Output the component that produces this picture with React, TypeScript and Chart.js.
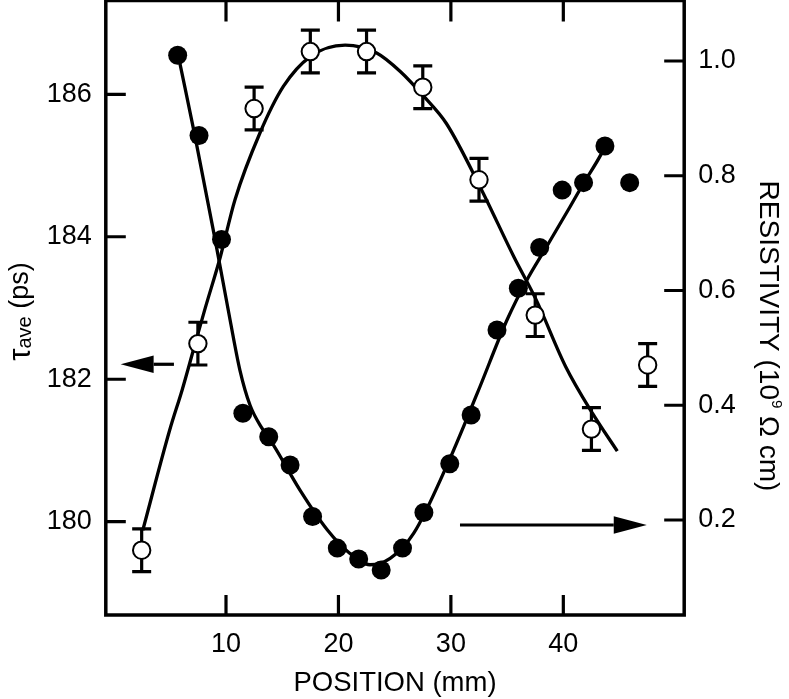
import React, { useEffect, useRef } from 'react';
import { Chart, registerables } from 'chart.js';

Chart.register(...registerables);

// ---- tick values ----
const positionTicks = [10, 20, 30, 40];
const tauTicks = [180, 182, 184, 186];
const rhoTicks = [0.2, 0.4, 0.6, 0.8, 1.0];

// ---- open circles: tau_ave (ps) vs position (mm) ----
const tauPositions = [2.5, 7.5, 12.5, 17.5, 22.5, 27.5, 32.5, 37.5, 42.5, 47.5];
const tauAve = [179.6, 182.5, 185.8, 186.6, 186.6, 186.1, 184.8, 182.9, 181.3, 182.2];
const tauError = [0.3, 0.3, 0.3, 0.3, 0.3, 0.3, 0.3, 0.3, 0.3, 0.3];

// ---- filled circles: resistivity (10^9 ohm cm) vs position (mm) ----
const rhoPositions = [5.7, 7.6, 9.6, 11.5, 13.8, 15.7, 17.7, 19.9, 21.8, 23.8, 25.7, 27.6, 29.9, 31.8, 34.1, 36.0, 37.9, 39.9, 41.8, 43.7, 45.9];
const resistivity = [1.01, 0.870, 0.689, 0.386, 0.345, 0.296, 0.206, 0.151, 0.132, 0.113, 0.151, 0.213, 0.298, 0.383, 0.531, 0.604, 0.675, 0.775, 0.788, 0.852, 0.788];

// ---- fitted curves ----
const tauFitPositions = [2.6, 5.0, 6.1, 7.1, 8.1, 9.5, 10.8, 13.0, 15.1, 17.5, 20.6, 23.4, 25.5, 27.6, 29.6, 32.6, 35.6, 37.6, 40.2, 42.6, 44.8];
const tauFit = [179.88, 181.29, 181.85, 182.41, 182.97, 183.72, 184.52, 185.45, 186.11, 186.53, 186.69, 186.58, 186.32, 185.97, 185.59, 184.70, 183.72, 183.11, 182.18, 181.52, 180.99];
const rhoFitPositions = [5.9, 7.24, 9.02, 10.36, 11.24, 12.14, 13.2, 14.18, 16.58, 19.0, 21.0, 22.8, 24.6, 26.7, 29.6, 32.35, 35.0, 36.75, 38.5, 40.6, 41.8, 43.4, 43.7];
const rhoFit = [0.996, 0.869, 0.690, 0.549, 0.461, 0.400, 0.360, 0.332, 0.252, 0.183, 0.142, 0.122, 0.133, 0.177, 0.293, 0.421, 0.549, 0.618, 0.676, 0.746, 0.787, 0.839, 0.852];

// ---- axis arrows (data units): [tail position, tip position] and level ----
const tauArrowSpan = [5.37, 0.63];
const tauArrowLevel = 182.21;
const rhoArrowSpan = [30.81, 47.42];
const rhoArrowLevel = 0.1913;

const FONT = "'Liberation Sans', Arial, Helvetica, sans-serif";

function drawArrow(ctx: CanvasRenderingContext2D, x0: number, x1: number, y: number) {
  const dir = Math.sign(x1 - x0);
  const base = x1 - dir * 33;
  ctx.beginPath();
  ctx.moveTo(x0, y);
  ctx.lineTo(base, y);
  ctx.stroke();
  ctx.beginPath();
  ctx.moveTo(x1, y);
  ctx.lineTo(base, y - 8.7);
  ctx.lineTo(base, y + 8.7);
  ctx.closePath();
  ctx.fill();
}

type Seg = { text: string; size: number; dy: number };

function drawSegs(ctx: CanvasRenderingContext2D, segs: Seg[]) {
  let total = 0;
  for (const s of segs) {
    ctx.font = `${s.size}px ${FONT}`;
    total += ctx.measureText(s.text).width;
  }
  let u = -total / 2;
  for (const s of segs) {
    ctx.font = `${s.size}px ${FONT}`;
    ctx.fillText(s.text, u, s.dy);
    u += ctx.measureText(s.text).width;
  }
}

const decorPlugin = {
  id: 'decor',
  beforeDatasetsDraw(chart: any) {
    const { ctx, scales } = chart;
    const xs = scales.x;
    const yt = scales.yTau;
    ctx.save();
    ctx.strokeStyle = '#000';
    ctx.lineWidth = 3.2;
    ctx.lineCap = 'butt';
    tauPositions.forEach((p, i) => {
      const px = xs.getPixelForValue(p);
      const top = yt.getPixelForValue(tauAve[i] + tauError[i]);
      const bot = yt.getPixelForValue(tauAve[i] - tauError[i]);
      ctx.beginPath();
      ctx.moveTo(px, top);
      ctx.lineTo(px, bot);
      ctx.moveTo(px - 9.5, top);
      ctx.lineTo(px + 9.5, top);
      ctx.moveTo(px - 9.5, bot);
      ctx.lineTo(px + 9.5, bot);
      ctx.stroke();
    });
    ctx.restore();
  },
  afterDatasetsDraw(chart: any) {
    const { ctx, scales } = chart;
    const xs = scales.x;
    ctx.save();
    ctx.strokeStyle = '#000';
    ctx.fillStyle = '#000';
    ctx.lineWidth = 3.2;
    drawArrow(ctx, xs.getPixelForValue(tauArrowSpan[0]), xs.getPixelForValue(tauArrowSpan[1]), scales.yTau.getPixelForValue(tauArrowLevel));
    drawArrow(ctx, xs.getPixelForValue(rhoArrowSpan[0]), xs.getPixelForValue(rhoArrowSpan[1]), scales.yRho.getPixelForValue(rhoArrowLevel));
    ctx.restore();
  },
  afterDraw(chart: any) {
    const { ctx, chartArea: a, scales } = chart;
    ctx.save();
    ctx.strokeStyle = '#000';
    ctx.fillStyle = '#000';
    ctx.lineWidth = 3.5;
    ctx.lineCap = 'butt';
    // frame
    ctx.strokeRect(a.left, a.top, a.right - a.left, a.bottom - a.top);
    // inward ticks
    ctx.lineWidth = 3.2;
    ctx.beginPath();
    for (const t of scales.x.ticks) {
      const p = scales.x.getPixelForValue(t.value);
      ctx.moveTo(p, a.bottom);
      ctx.lineTo(p, a.bottom - 20);
      ctx.moveTo(p, a.top);
      ctx.lineTo(p, a.top + 21);
    }
    for (const t of scales.yTau.ticks) {
      const p = scales.yTau.getPixelForValue(t.value);
      ctx.moveTo(a.left, p);
      ctx.lineTo(a.left + 20, p);
    }
    for (const t of scales.yRho.ticks) {
      const p = scales.yRho.getPixelForValue(t.value);
      ctx.moveTo(a.right, p);
      ctx.lineTo(a.right - 20, p);
    }
    ctx.stroke();

    // x title
    ctx.textBaseline = 'alphabetic';
    ctx.textAlign = 'center';
    ctx.font = `27.5px ${FONT}`;
    ctx.fillText('POSITION (mm)', (a.left + a.right) / 2, 691);

    ctx.textAlign = 'left';
    // left title, reading bottom to top
    ctx.save();
    ctx.translate(28, 311.5);
    ctx.rotate(-Math.PI / 2);
    drawSegs(ctx, [
      { text: 'τ', size: 31, dy: 2 },
      { text: 'ave', size: 20, dy: 3 },
      { text: ' (ps)', size: 27, dy: 0 },
    ]);
    ctx.restore();

    // right title, reading top to bottom
    ctx.save();
    ctx.translate(760, 336);
    ctx.rotate(Math.PI / 2);
    drawSegs(ctx, [
      { text: 'RESISTIVITY (10', size: 28, dy: 0 },
      { text: '9', size: 15, dy: -12 },
      { text: ' Ω cm)', size: 28, dy: 0 },
    ]);
    ctx.restore();

    ctx.restore();
  },
};

export default function App() {
  const ref = useRef<HTMLCanvasElement | null>(null);

  useEffect(() => {
    document.body.style.margin = '0';
    const canvas = ref.current;
    if (!canvas) return;

    const tauPoints = tauPositions.map((x, i) => ({ x, y: tauAve[i] }));
    const rhoPoints = rhoPositions.map((x, i) => ({ x, y: resistivity[i] }));
    const tauFitPoints = tauFitPositions.map((x, i) => ({ x, y: tauFit[i] }));
    const rhoFitPoints = rhoFitPositions.map((x, i) => ({ x, y: rhoFit[i] }));

    const tickFont = { family: FONT, size: 27 };

    const chart = new Chart(canvas, {
      type: 'line',
      data: {
        datasets: [
          {
            label: 'Resistivity',
            data: rhoPoints,
            yAxisID: 'yRho',
            showLine: false,
            pointRadius: 9.5,
            pointBackgroundColor: '#000',
            pointBorderColor: '#000',
            pointBorderWidth: 0,
            order: 0,
          },
          {
            label: 'tau_ave',
            data: tauPoints,
            yAxisID: 'yTau',
            showLine: false,
            pointRadius: 8.7,
            pointBackgroundColor: '#fff',
            pointBorderColor: '#000',
            pointBorderWidth: 2,
            order: 1,
          },
          {
            label: 'Resistivity fit',
            data: rhoFitPoints,
            yAxisID: 'yRho',
            borderColor: '#000',
            borderWidth: 3.3,
            pointRadius: 0,
            cubicInterpolationMode: 'monotone',
            fill: false,
            order: 2,
          },
          {
            label: 'tau fit',
            data: tauFitPoints,
            yAxisID: 'yTau',
            borderColor: '#000',
            borderWidth: 3.3,
            pointRadius: 0,
            cubicInterpolationMode: 'monotone',
            fill: false,
            order: 3,
          },
        ],
      },
      options: {
        animation: false,
        responsive: false,
        events: [],
        layout: { padding: { top: 0.5, left: 0, right: 0, bottom: 0 }, autoPadding: false },
        plugins: {
          legend: { display: false },
          tooltip: { enabled: false },
        },
        scales: {
          x: {
            type: 'linear',
            position: 'bottom',
            min: -0.69,
            max: 50.75,
            grid: { display: false, drawTicks: false },
            border: { display: false },
            ticks: { padding: 13, font: tickFont, color: '#000', maxRotation: 0 },
            afterBuildTicks: (s: any) => {
              s.ticks = positionTicks.map((v) => ({ value: v }));
            },
            afterFit: (s: any) => {
              s.height = 84;
              s.paddingLeft = 0;
              s.paddingRight = 0;
            },
          },
          yTau: {
            type: 'linear',
            position: 'left',
            min: 178.69,
            max: 187.317,
            grid: { display: false, drawTicks: false },
            border: { display: false },
            ticks: { padding: 14, font: tickFont, color: '#000' },
            afterBuildTicks: (s: any) => {
              s.ticks = tauTicks.map((v) => ({ value: v }));
            },
            afterFit: (s: any) => {
              s.width = 105.8;
              s.paddingTop = 0;
              s.paddingBottom = 0;
            },
          },
          yRho: {
            type: 'linear',
            position: 'right',
            min: 0.03443,
            max: 1.10545,
            grid: { display: false, drawTicks: false },
            border: { display: false },
            ticks: {
              padding: 14,
              font: tickFont,
              color: '#000',
              callback: (v: any) => Number(v).toFixed(1),
            },
            afterBuildTicks: (s: any) => {
              s.ticks = rhoTicks.map((v) => ({ value: v }));
            },
            afterFit: (s: any) => {
              s.width = 104.8;
              s.paddingTop = 0;
              s.paddingBottom = 0;
            },
          },
        },
      } as any,
      plugins: [decorPlugin],
    });

    return () => chart.destroy();
  }, []);

  return (
    <div style={{ width: 789, height: 699, position: 'relative', background: '#fff' }}>
      <canvas ref={ref} width={789} height={699} style={{ display: 'block' }} />
    </div>
  );
}
